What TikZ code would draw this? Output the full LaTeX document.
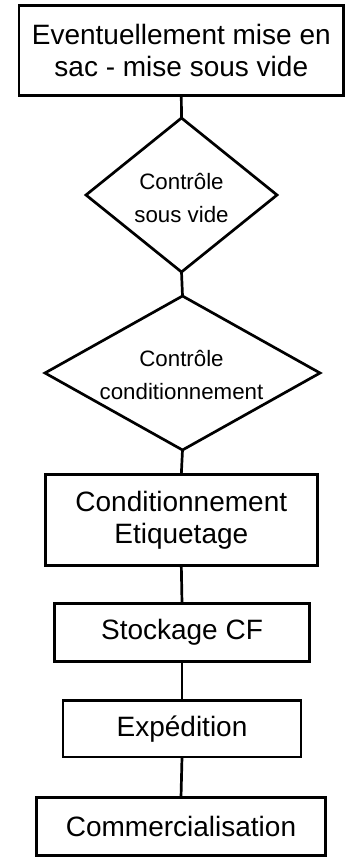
\documentclass[tikz,border=0pt]{standalone}
\usepackage{fontspec}
\setmainfont{Liberation Sans}
\usetikzlibrary{shapes.geometric}
\begin{document}
\begin{tikzpicture}[x=1pt,y=-1pt,
  every node/.style={line width=2.7pt, draw=black, inner sep=0pt, outer sep=0pt},
  boxnode/.style={rectangle, align=center, font=\fontsize{28}{32}\selectfont},
  decnode/.style={diamond, aspect=1.24},
  dectext/.style={draw=none, align=center, font=\fontsize{22.3}{33}\selectfont},
  link/.style={line width=2.7pt}]
\useasboundingbox (0,0) rectangle (350,858);
\node[boxnode, minimum width=324.6pt, minimum height=90pt] (b1) at (181.3,50.5) {Eventuellement mise en\\sac - mise sous vide};
\node[decnode, minimum width=191pt, minimum height=154pt] (d1) at (181.5,195) {};
\node[dectext] (t1) at (181.5,198) {Contrôle\\sous vide};
\node[decnode, minimum width=275pt, minimum height=154pt] (d2) at (182.5,373) {};
\node[dectext] (t2) at (181.5,375) {Contrôle\\conditionnement};
\node[boxnode, minimum width=272pt, minimum height=90.6pt] (b3) at (181.3,520) {Conditionnement\\Etiquetage};
\node[boxnode, minimum width=255.5pt, minimum height=58pt] (b4) at (182,632.3) {Stockage CF};
\node[boxnode, minimum width=238pt, minimum height=56.5pt] (b5) at (182,728.8) {Expédition};
\node[boxnode, minimum width=289pt, minimum height=57.8pt] (b6) at (181,826.4) {Commercialisation};
\draw[link] (b1.south) -- (d1.north);
\draw[link] (d1.south) -- (d2.north);
\draw[link] (d2.south) -- (b3.north);
\draw[link] (b3.south) -- (b4.north);
\draw[link] (b4.south) -- (b5.north);
\draw[link] (b5.south) -- (b6.north);
\end{tikzpicture}
\end{document}
